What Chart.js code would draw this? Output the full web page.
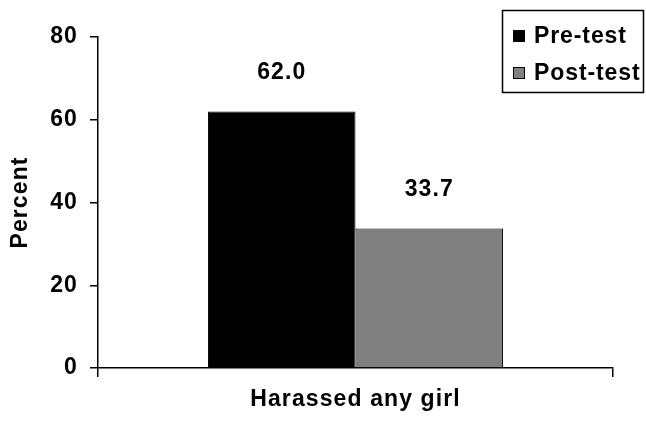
<!DOCTYPE html>
<html>
<head>
<meta charset="utf-8">
<script src="https://cdn.jsdelivr.net/npm/chart.js@4.4.1/dist/chart.umd.min.js"></script>
<style>
	html, body { margin: 0; padding: 0; background: #fff; }
	#wrap { width: 646px; height: 421px; position: relative; }
</style>
</head>
<body>
<div id="wrap"><canvas id="c" width="646" height="421"></canvas></div>
<script>
const categories = ["Harassed any girl"];
const seriesNames = ["Pre-test", "Post-test"];
const preTest = [62.0];
const postTest = [33.7];
const yTicks = [0, 20, 40, 60, 80];

const FONT = "'Liberation Sans', Arial, sans-serif";
const FS = 23;

// the original renderer spreads its glyphs a bit
const spacing = {
	id: "spacing",
	beforeUpdate(chart) {
		chart.ctx.letterSpacing = "1.1px";
	},
};

// value labels drawn above each bar
const valueLabels = {
	id: "valueLabels",
	afterDatasetsDraw(chart) {
		const ctx = chart.ctx;
		ctx.save();
		ctx.font = "bold " + FS + "px " + FONT;
		ctx.fillStyle = "#000";
		ctx.textAlign = "center";
		ctx.textBaseline = "middle";
		chart.data.datasets.forEach((ds, i) => {
			chart.getDatasetMeta(i).data.forEach((bar, j) => {
				ctx.fillText(ds.data[j].toFixed(1), bar.x, bar.y - 39);
			});
		});
		ctx.restore();
	},
};

// boxed legend in the top right corner
const boxLegend = {
	id: "boxLegend",
	afterDraw(chart) {
		const ctx = chart.ctx;
		const x0 = 502, y0 = 10, w = 141, h = 82;
		ctx.save();
		ctx.fillStyle = "#fff";
		ctx.fillRect(x0, y0, w, h);
		ctx.strokeStyle = "#000";
		ctx.lineWidth = 1.5;
		ctx.strokeRect(x0 + 0.5, y0 + 0.5, w, h);
		ctx.font = "bold " + FS + "px " + FONT;
		ctx.letterSpacing = "0.9px";
		ctx.textBaseline = "middle";
		chart.data.datasets.forEach((ds, i) => {
			const cy = y0 + 26 + i * 37;
			ctx.fillStyle = ds.backgroundColor;
			ctx.fillRect(x0 + 11, cy - 6, 12, 12);
			ctx.lineWidth = 1;
			ctx.strokeRect(x0 + 11.5, cy - 5.5, 11, 11);
			ctx.fillStyle = "#000";
			ctx.fillText(ds.label, x0 + 32, cy + 1);
		});
		ctx.restore();
	},
};

new Chart(document.getElementById("c"), {
	type: "bar",
	data: {
		labels: categories,
		datasets: [
			{ label: seriesNames[0], data: preTest, backgroundColor: "#000000", borderColor: "#000", borderWidth: 1 },
			{ label: seriesNames[1], data: postTest, backgroundColor: "#808080", borderColor: "#000", borderWidth: 1 },
		],
	},
	options: {
		responsive: false,
		animation: false,
		devicePixelRatio: 1,
		layout: { padding: { top: 37, right: 33, left: 0, bottom: 4 } },
		categoryPercentage: 0.573,
		barPercentage: 1.0,
		plugins: { legend: { display: false }, tooltip: { enabled: false } },
		scales: {
			x: {
				grid: { display: true, drawOnChartArea: false, offset: true, color: "#000", tickLength: 9, lineWidth: 1.5 },
				border: { color: "#000", width: 1.5 },
				ticks: { display: false },
				title: { display: true, text: categories[0], color: "#000", font: { family: FONT, size: FS, weight: "bold" }, padding: { top: 10 } },
				afterFit(s) { s.height = 49; },
			},
			y: {
				min: 0,
				max: 80,
				afterBuildTicks(s) { s.ticks = yTicks.map((v) => ({ value: v })); },
				grid: { display: true, drawOnChartArea: false, color: "#000", tickLength: 8, lineWidth: 1.5 },
				border: { color: "#000", width: 1.5 },
				ticks: { color: "#000", padding: 12, font: { family: FONT, size: FS, weight: "bold" } },
				title: { display: true, text: "Percent", color: "#000", font: { family: FONT, size: FS, weight: "bold" }, padding: { top: 7, bottom: 0 } },
				afterFit(s) { s.width = 98; },
			},
		},
	},
	plugins: [spacing, valueLabels, boxLegend],
});
</script>
</body>
</html>
